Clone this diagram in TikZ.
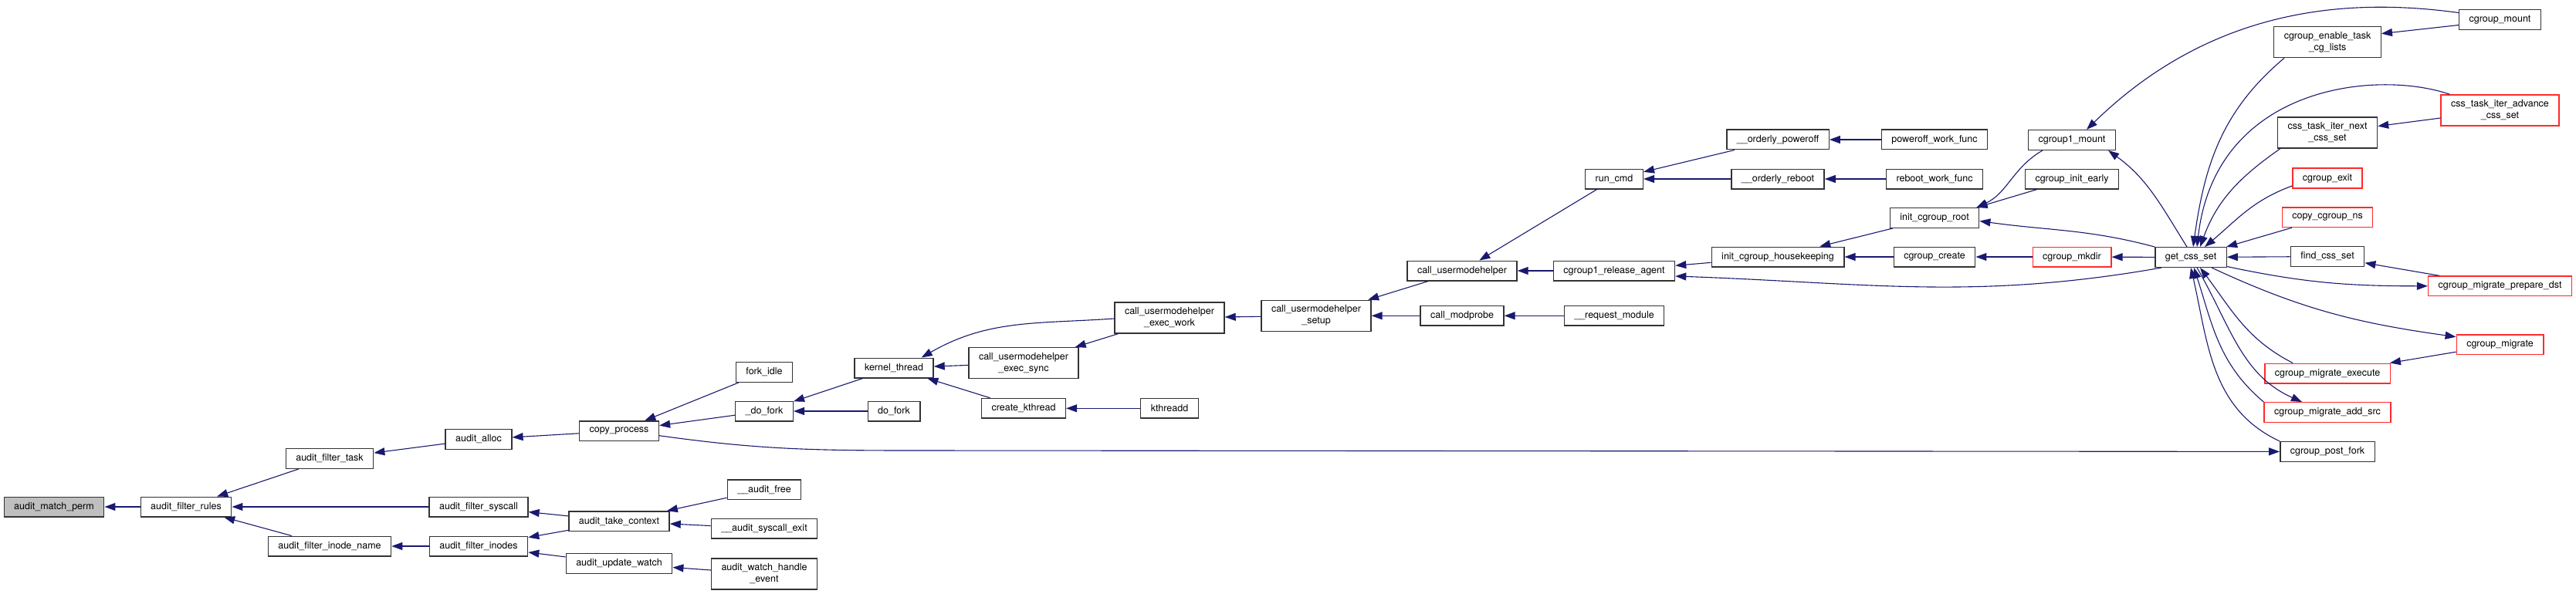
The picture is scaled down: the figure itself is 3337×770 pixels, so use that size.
\documentclass[tikz,border=0pt]{standalone}
\usepackage{fontspec}
\setmainfont{TeX Gyre Heros}
\usepackage{tikz}
\usetikzlibrary{arrows.meta}
\definecolor{medge}{HTML}{191970}
\definecolor{mline}{HTML}{333333}
\definecolor{mred}{HTML}{FF2A2A}
\definecolor{mgray}{HTML}{BFBFBF}
\tikzset{
  nbox/.style={draw=mline, fill=white, line width=1.4pt, minimum height=25.6pt,
               inner xsep=13pt, inner ysep=2pt, align=center},
  rbox/.style={nbox, draw=mred},
  gbox/.style={nbox, fill=mgray},
  tall/.style={minimum height=40pt},
  arr/.style={-{Triangle[length=14pt,width=10pt]}, line width=1.1pt, medge},
}

\begin{document}
\begin{tikzpicture}[x=1pt, y=-1pt, every node/.style={font=\fontsize{12.5}{15}\selectfont}]
  \useasboundingbox (0,0) rectangle (3337,770);

  % audit side
  \node[gbox] (amp) at (70,657) {audit\_match\_perm};
  \node[nbox] (afr) at (241,657) {audit\_filter\_rules};
  \node[nbox] (aft) at (427,594.5) {audit\_filter\_task};
  \node[nbox] (afn) at (427,708) {audit\_filter\_inode\_name};
  \node[nbox] (aal) at (620,569.5) {audit\_alloc};
  \node[nbox] (afs) at (620,657) {audit\_filter\_syscall};
  \node[nbox] (afi) at (620,708) {audit\_filter\_inodes};
  \node[nbox] (cpp) at (802,558.7) {copy\_process};
  \node[nbox] (atc) at (802,675.7) {audit\_take\_context};
  \node[nbox] (auw) at (802,730.5) {audit\_update\_watch};
  \node[nbox] (fki) at (990,482.5) {fork\_idle};
  \node[nbox] (udf) at (990,533) {\_do\_fork};
  \node[nbox] (aaf) at (990,634.7) {\_\_audit\_free};
  \node[nbox] (ase) at (990,685) {\_\_audit\_syscall\_exit};
  \node[nbox, tall] (awh) at (990,744) {audit\_watch\_handle\\\_event};

  % kthread / usermodehelper
  \node[nbox] (kth) at (1158,477) {kernel\_thread};
  \node[nbox] (dfk) at (1158,533) {do\_fork};
  \node[nbox, tall] (ces) at (1326,470.7) {call\_usermodehelper\\\_exec\_sync};
  \node[nbox] (ckt) at (1326,529.3) {create\_kthread};
  \node[nbox, tall] (cew) at (1515,412) {call\_usermodehelper\\\_exec\_work};
  \node[nbox] (ktd) at (1515,529.3) {kthreadd};
  \node[nbox, tall] (cus) at (1705,409.3) {call\_usermodehelper\\\_setup};
  \node[nbox] (cuh) at (1894,351) {call\_usermodehelper};
  \node[nbox] (cmp) at (1894,409.3) {call\_modprobe};
  \node[nbox] (rcm) at (2091,232) {run\_cmd};
  \node[nbox] (cra) at (2091,351) {cgroup1\_release\_agent};
  \node[nbox] (rqm) at (2091,409.3) {\_\_request\_module};
  \node[nbox] (opo) at (2303,181) {\_\_orderly\_poweroff};
  \node[nbox] (orb) at (2303,232) {\_\_orderly\_reboot};
  \node[nbox] (ich) at (2303,333) {init\_cgroup\_housekeeping};
  \node[nbox] (pwf) at (2506,181) {poweroff\_work\_func};
  \node[nbox] (rwf) at (2506,232) {reboot\_work\_func};
  \node[nbox] (icr) at (2506,282.5) {init\_cgroup\_root};
  \node[nbox] (ccr) at (2506,333) {cgroup\_create};

  % cgroup side
  \node[nbox] (c1m) at (2684,181.5) {cgroup1\_mount};
  \node[nbox] (cie) at (2684,232) {cgroup\_init\_early};
  \node[rbox] (cmk) at (2684,333) {cgroup\_mkdir};
  \node[nbox] (gcs) at (2838,333.5) {get\_css\_set};
  \node[nbox] (cmt) at (3238.5,25.5) {cgroup\_mount};
  \node[nbox, tall] (cet) at (3015,54.6) {cgroup\_enable\_task\\\_cg\_lists};
  \node[rbox, tall] (cta) at (3238.5,143) {css\_task\_iter\_advance\\\_css\_set};
  \node[nbox, tall] (ctn) at (3015,172) {css\_task\_iter\_next\\\_css\_set};
  \node[rbox] (cex) at (3015,231) {cgroup\_exit};
  \node[rbox] (ccn) at (3015,281.7) {copy\_cgroup\_ns};
  \node[nbox] (fcs) at (3015,332.5) {find\_css\_set};
  \node[rbox] (cpd) at (3238.5,370.8) {cgroup\_migrate\_prepare\_dst};
  \node[rbox] (cmg) at (3238.5,446.7) {cgroup\_migrate};
  \node[rbox] (cme) at (3015,484) {cgroup\_migrate\_execute};
  \node[rbox] (cma) at (3015,534.5) {cgroup\_migrate\_add\_src};
  \node[nbox] (cpf) at (3015,585.4) {cgroup\_post\_fork};

  \draw[arr] (afr) -- (amp);
  \draw[arr] (aft) -- (afr);
  \draw[arr] (afs) -- (afr);
  \draw[arr] (afn) -- (afr);
  \draw[arr] (aal) -- (aft);
  \draw[arr] (afi) -- (afn);
  \draw[arr] (atc) -- (afs);
  \draw[arr] (atc) -- (afi);
  \draw[arr] (auw) -- (afi);
  \draw[arr] (cpp) -- (aal);
  \draw[arr] (fki) -- (cpp);
  \draw[arr] (udf) -- (cpp);
  \draw[arr] (aaf) -- (atc);
  \draw[arr] (ase) -- (atc);
  \draw[arr] (awh) -- (auw);
  \draw[arr] ([yshift=-6pt]cpp.east) to[out=-8,in=180] (1180,584) -- (cpf.west);

  \draw[arr] (kth) -- (udf);
  \draw[arr] (dfk) -- (udf);
  \draw[arr] ([yshift=-1pt]cew.west) to[out=184,in=30] ([xshift=-16pt]kth.north east);
  \draw[arr] (ces) -- (kth);
  \draw[arr] (ckt) -- (kth);
  \draw[arr] (cew) -- (ces);
  \draw[arr] (ktd) -- (ckt);
  \draw[arr] (cus) -- (cew);
  \draw[arr] (cuh) -- (cus);
  \draw[arr] (cmp) -- (cus);
  \draw[arr] (rqm) -- (cmp);
  \draw[arr] (rcm) -- (cuh);
  \draw[arr] (cra) -- (cuh);
  \draw[arr] (opo) -- (rcm);
  \draw[arr] (orb) -- (rcm);
  \draw[arr] (pwf) -- (opo);
  \draw[arr] (rwf) -- (orb);
  \draw[arr] (ich) -- (cra);
  \draw[arr] ([xshift=9pt]gcs.south west) to[out=190,in=-2] ([yshift=-7pt]cra.east);
  \draw[arr] (icr) -- (ich);
  \draw[arr] (ccr) -- (ich);
  \draw[arr] (cmk) -- (ccr);
  \draw[arr] (gcs) -- (cmk);

  \draw[arr] ([xshift=19pt]c1m.south west) to[out=210,in=25] ([xshift=-4pt]icr.north east);
  \draw[arr] (cie) -- ([xshift=-4pt]icr.north east);
  \draw[arr] (gcs.north west) to[out=165,in=-8] ([yshift=-4pt]icr.east);
  \draw[arr] ([yshift=9pt]cmt.west) .. controls (3050,-2) and (2870,5) .. ([xshift=19pt]c1m.north);
  \draw[arr] ([xshift=-5pt]gcs.north) to[out=122,in=-36] ([xshift=-10pt]c1m.south east);
  \draw[arr] ([yshift=-7pt]cmt.west) -- ([yshift=11pt]cet.east);
  \draw[arr] ([xshift=14pt]cet.south west) to[out=220,in=82] ([xshift=3pt]gcs.north);
  \draw[arr] ([xshift=12pt]cta.north west) .. controls (3080,90) and (2870,110) .. ([xshift=8pt]gcs.north);
  \draw[arr] (cta) -- (ctn);
  \draw[arr] ([xshift=4pt]ctn.south west) to[out=215,in=70] ([xshift=12pt]gcs.north);
  \draw[arr] ([yshift=-10pt]cex.west) to[out=200,in=40] ([xshift=18pt]gcs.north);
  \draw[arr] (ccn) -- (gcs);
  \draw[arr] (fcs) -- (gcs);
  \draw[arr] (cpd) -- (fcs);
  \draw[arr] ([yshift=-12pt]gcs.east) to[out=-12,in=180] (cpd.west);
  \draw[arr] ([xshift=27pt]gcs.south) to[out=-25,in=172] ([yshift=10pt]cmg.west);
  \draw[arr] (cmg) -- (cme);
  \draw[arr] ([xshift=37pt]cme.north west) to[out=153,in=-53] ([xshift=12pt]gcs.south);
  \draw[arr] ([xshift=8pt]gcs.south) to[out=-60,in=156] ([xshift=-33pt]cma.north);
  \draw[arr] (cma.north west) to[out=140,in=-72] ([xshift=4pt]gcs.south);
  \draw[arr] (cpf.north west) to[out=155,in=-77] (gcs.south);
\end{tikzpicture}
\end{document}
